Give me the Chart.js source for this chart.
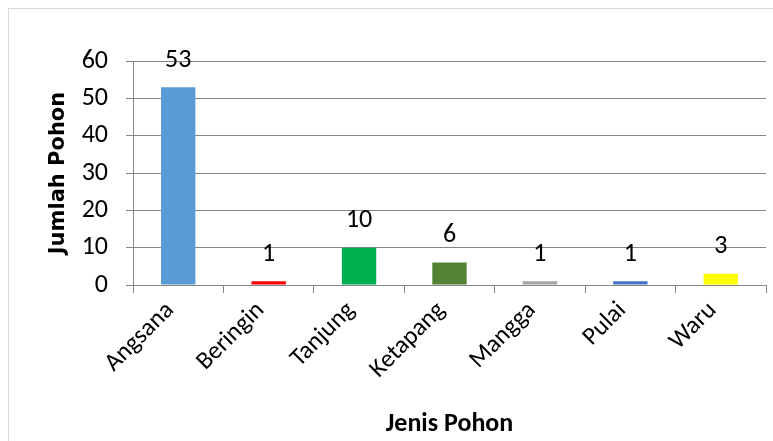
<!DOCTYPE html>
<html>
<head>
<meta charset="utf-8">
<script src="https://cdn.jsdelivr.net/npm/chart.js@4"></script>
<style>
  html, body { margin: 0; padding: 0; background: #fff; }
  #wrap { position: relative; width: 773px; height: 441px; overflow: hidden; }
  #frame { position: absolute; left: 8px; top: 8px; width: 800px; height: 500px; border: 1px solid #d9d9d9; box-sizing: border-box; }
  canvas { position: absolute; left: 0; top: 0; }
</style>
</head>
<body>
<div id="wrap">
  <div id="frame"></div>
  <canvas id="grafik" width="773" height="441"></canvas>
</div>
<script>
// data pohon
const jenisPohon = ['Angsana', 'Beringin', 'Tanjung', 'Ketapang', 'Mangga', 'Pulai', 'Waru'];
const jumlahPohon = [53, 1, 10, 6, 1, 1, 3];
const warnaBatang = ['#5b9bd5', '#ff0000', '#00b050', '#548235', '#a5a5a5', '#4472c4', '#ffff00'];
const tickY = [0, 10, 20, 30, 40, 50, 60];

const fontUtama = 'Carlito, Lato, sans-serif';

// label angka di atas batang
const labelAngka = {
  id: 'labelAngka',
  afterDatasetsDraw(chart) {
    const ctx = chart.ctx;
    const meta = chart.getDatasetMeta(0);
    ctx.save();
    ctx.font = '26px ' + fontUtama;
    ctx.fillStyle = '#000';
    ctx.textAlign = 'center';
    ctx.textBaseline = 'middle';
    meta.data.forEach((bar, i) => {
      ctx.fillText(String(jumlahPohon[i]), bar.x, bar.y - 27);
    });
    ctx.restore();
  }
};

new Chart(document.getElementById('grafik'), {
  type: 'bar',
  data: {
    labels: jenisPohon,
    datasets: [{
      data: jumlahPohon,
      backgroundColor: warnaBatang,
      borderWidth: 0,
      categoryPercentage: 1,
      barPercentage: 0.38
    }]
  },
  options: {
    responsive: false,
    animation: false,
    layout: { padding: { left: 46, top: 61, right: 7, bottom: 1 } },
    plugins: { legend: { display: false }, tooltip: { enabled: false } },
    scales: {
      x: {
        grid: { drawOnChartArea: false, drawTicks: true, tickLength: 8, color: '#868686', offset: true },
        border: { color: '#868686' },
        ticks: {
          minRotation: 45, maxRotation: 45, padding: 3, labelOffset: -8,
          color: '#000', font: { family: fontUtama, size: 25 }
        },
        title: {
          display: true, text: 'Jenis Pohon', color: '#000',
          font: { family: fontUtama, size: 26, weight: 'bold' }, padding: 0
        },
        afterFit(s) { s.height = 441 - 285 - 1; }
      },
      y: {
        min: 0, max: 60,
        afterBuildTicks(s) { s.ticks = tickY.map(v => ({ value: v })); },
        grid: { color: '#868686', tickLength: 7 },
        border: { color: '#868686' },
        ticks: { padding: 18, color: '#000', font: { family: fontUtama, size: 26 } },
        title: {
          display: true, text: 'Jumlah Pohon', color: '#000',
          font: { family: 'DejaVu Sans', size: 21, weight: 'bold' }, padding: 0
        },
        afterFit(s) { s.width = 133 - 46; }
      }
    }
  },
  plugins: [labelAngka]
});
</script>
</body>
</html>
